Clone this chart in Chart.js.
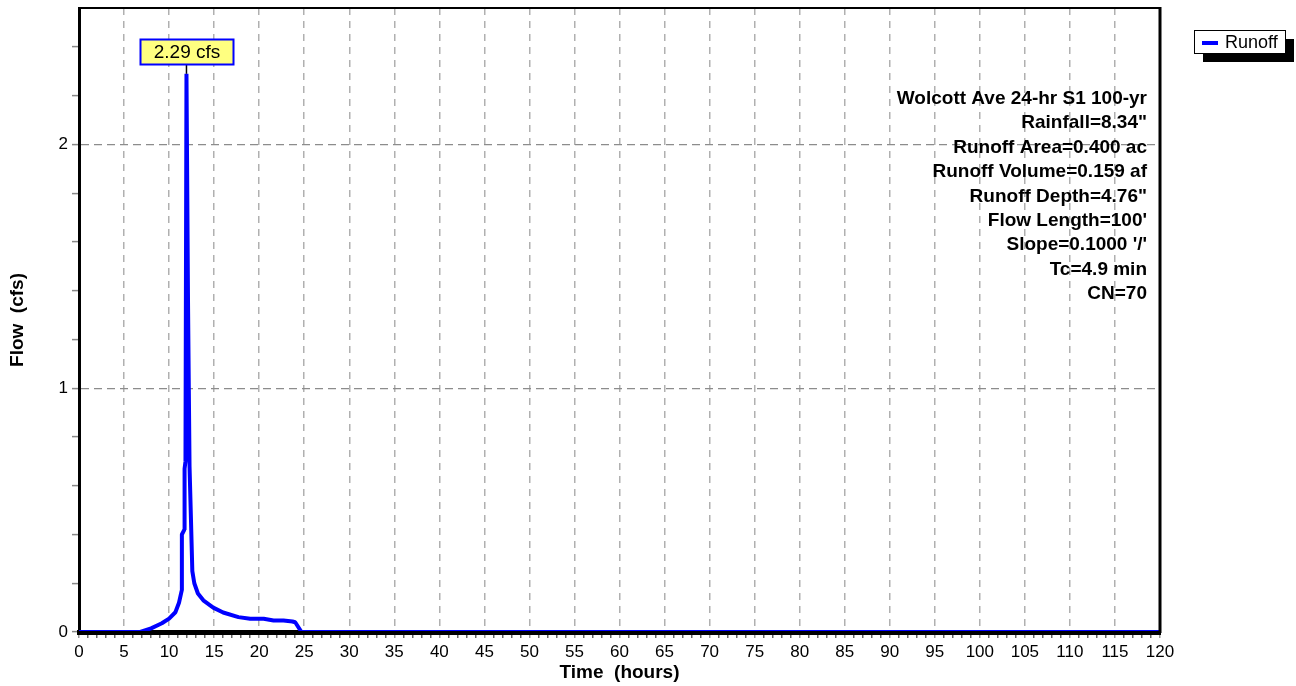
<!DOCTYPE html>
<html>
<head>
<meta charset="utf-8">
<script src="https://cdn.jsdelivr.net/npm/chart.js@4.4.1/dist/chart.umd.min.js"></script>
<style>
  html, body { margin: 0; padding: 0; background: #ffffff; }
  #wrap { width: 1296px; height: 686px; }
</style>
</head>
<body>
<div id="wrap"><canvas id="hydro" width="1296" height="686"></canvas></div>
<script>
// Runoff hydrograph: time in hours, flow in cfs
const timeHours = [0, 6.8, 8.0, 9.2, 10.0, 10.7, 11.1, 11.4, 11.42, 11.7, 11.72, 11.82, 11.93,
  12.1, 12.27, 12.43, 12.58, 12.8, 13.2, 13.8, 14.9, 16.0, 17.7, 19.0, 20.5, 21.6, 22.7, 23.7, 24.0, 24.7, 120];
const runoffCfs = [0, 0, 0.015, 0.036, 0.055, 0.081, 0.12, 0.17, 0.40, 0.42, 0.67, 0.70, 2.29,
  1.36, 0.68, 0.46, 0.25, 0.20, 0.158, 0.13, 0.10, 0.08, 0.061, 0.054, 0.054, 0.047, 0.047, 0.043, 0.040, 0, 0];

const seriesName = 'Runoff';
const flowUnit = 'cfs';
const xTitle = 'Time  (hours)';
const yTitle = 'Flow  (cfs)';
const xRange = [0, 120];
const yRange = [0, 2.56];
const xLabelStep = 5;
const yLabelStep = 1;

const infoLines = [
  'Wolcott Ave 24-hr S1 100-yr',
  'Rainfall=8.34"',
  'Runoff Area=0.400 ac',
  'Runoff Volume=0.159 af',
  'Runoff Depth=4.76"',
  'Flow Length=100\'',
  'Slope=0.1000 \'/\'',
  'Tc=4.9 min',
  'CN=70'
];

const FONT = "'Liberation Sans', Arial, Helvetica, sans-serif";
const isMultiple = (v, step) => Math.abs(v / step - Math.round(v / step)) < 1e-6;

// Frame, axis line over the trace, peak callout, info block and legend
const decorations = {
  id: 'decorations',
  afterDatasetsDraw(chart) {
    const { ctx, chartArea: a, scales } = chart;
    ctx.save();
    ctx.strokeStyle = '#000';
    ctx.lineWidth = 2;
    ctx.beginPath(); ctx.moveTo(a.left - 1, a.top); ctx.lineTo(a.right, a.top); ctx.stroke();
    ctx.lineWidth = 3;
    ctx.beginPath(); ctx.moveTo(a.right, a.top - 1); ctx.lineTo(a.right, a.bottom + 1); ctx.stroke();
    ctx.lineWidth = 4;
    ctx.beginPath(); ctx.moveTo(a.left - 2, a.bottom + 1); ctx.lineTo(a.right + 1, a.bottom + 1); ctx.stroke();

    // peak callout
    let pi = 0;
    runoffCfs.forEach((v, i) => { if (v > runoffCfs[pi]) pi = i; });
    const px = scales.x.getPixelForValue(timeHours[pi]);
    const py = scales.y.getPixelForValue(runoffCfs[pi]);
    const bw = 93, bh = 25;
    const bx = Math.round(px - bw / 2) + 0.5, by = Math.round(py - 35) + 0.5;
    ctx.strokeStyle = '#000'; ctx.lineWidth = 1.5;
    ctx.beginPath(); ctx.moveTo(px, by + bh); ctx.lineTo(px, py); ctx.stroke();
    ctx.fillStyle = '#ffff80';
    ctx.fillRect(bx, by, bw, bh);
    ctx.strokeStyle = '#0000ff'; ctx.lineWidth = 2;
    ctx.strokeRect(bx, by, bw, bh);
    ctx.fillStyle = '#000';
    ctx.font = '19px ' + FONT;
    ctx.textAlign = 'center'; ctx.textBaseline = 'middle';
    ctx.fillText(runoffCfs[pi].toFixed(2) + ' ' + flowUnit, bx + bw / 2, by + bh / 2 + 1);

    // info block
    ctx.font = 'bold 19px ' + FONT;
    ctx.textAlign = 'right'; ctx.textBaseline = 'alphabetic';
    infoLines.forEach((t, i) => ctx.fillText(t, 1147, 104 + i * 24.4));

    // legend with drop shadow
    const lx = 1194, ly = 30, lw = 91, lh = 23;
    ctx.fillStyle = '#000';
    ctx.fillRect(lx + 9, ly + 9, lw, lh);
    ctx.fillStyle = '#fff';
    ctx.fillRect(lx, ly, lw, lh);
    ctx.strokeStyle = '#000'; ctx.lineWidth = 1;
    ctx.strokeRect(lx + 0.5, ly + 0.5, lw, lh);
    ctx.strokeStyle = chart.data.datasets[0].borderColor; ctx.lineWidth = 4;
    ctx.beginPath(); ctx.moveTo(lx + 8, ly + 13); ctx.lineTo(lx + 24, ly + 13); ctx.stroke();
    ctx.fillStyle = '#000';
    ctx.font = '18px ' + FONT;
    ctx.textAlign = 'left'; ctx.textBaseline = 'middle';
    ctx.fillText(chart.data.datasets[0].label, lx + 31, ly + 13);
    ctx.restore();
  }
};

new Chart(document.getElementById('hydro'), {
  type: 'line',
  data: {
    datasets: [{
      label: seriesName,
      data: timeHours.map((t, i) => ({ x: t, y: runoffCfs[i] })),
      borderColor: '#0000ff',
      borderWidth: 4,
      borderJoinStyle: 'bevel',
      pointRadius: 0,
      tension: 0,
      fill: false
    }]
  },
  options: {
    responsive: false,
    animation: false,
    devicePixelRatio: 1,
    layout: { padding: { left: 0, top: 8, right: 136, bottom: 0 } },
    plugins: { legend: { display: false }, tooltip: { enabled: false } },
    scales: {
      x: {
        type: 'linear',
        min: xRange[0], max: xRange[1],
        afterFit(s) { s.height = 54; },
        border: { display: true, color: '#000', width: 4, dash: [7, 6] },
        grid: {
          color: c => (c.tick && isMultiple(c.tick.value, xLabelStep) && c.tick.value > xRange[0] && c.tick.value < xRange[1]) ? '#b0b0b0' : 'rgba(0,0,0,0)',
          lineWidth: 1.5,
          tickLength: 6,
          tickColor: c => (c.tick && isMultiple(c.tick.value, xLabelStep)) ? '#999' : '#666',
          tickWidth: 1.5
        },
        ticks: {
          stepSize: 1,
          autoSkip: false,
          maxRotation: 0,
          includeBounds: false,
          padding: 4,
          color: '#000',
          font: { family: FONT, size: 17 },
          callback: v => isMultiple(v, xLabelStep) ? String(v) : ''
        },
        title: {
          display: true, text: xTitle, color: '#000',
          font: { family: FONT, size: 19, weight: 'bold' },
          padding: { top: 0, bottom: 2 }
        }
      },
      y: {
        type: 'linear',
        min: yRange[0], max: yRange[1],
        afterFit(s) { s.width = 79; s.paddingTop = 0; s.paddingBottom = 0; },
        border: { display: true, color: '#000', width: 3, dash: [8, 5] },
        grid: {
          color: c => (c.tick && isMultiple(c.tick.value, yLabelStep) && c.tick.value > yRange[0]) ? '#8c8c8c' : 'rgba(0,0,0,0)',
          lineWidth: 1.2,
          tickLength: 7,
          tickColor: '#888',
          tickWidth: 1.5
        },
        ticks: {
          stepSize: 0.2,
          autoSkip: false,
          includeBounds: false,
          padding: 4,
          color: '#000',
          font: { family: FONT, size: 17 },
          callback: v => isMultiple(v, yLabelStep) ? String(Math.round(v)) : ''
        },
        title: {
          display: true, text: yTitle, color: '#000',
          font: { family: FONT, size: 19, weight: 'bold' },
          padding: { top: 6, bottom: 0 }
        }
      }
    }
  },
  plugins: [decorations]
});
</script>
</body>
</html>
